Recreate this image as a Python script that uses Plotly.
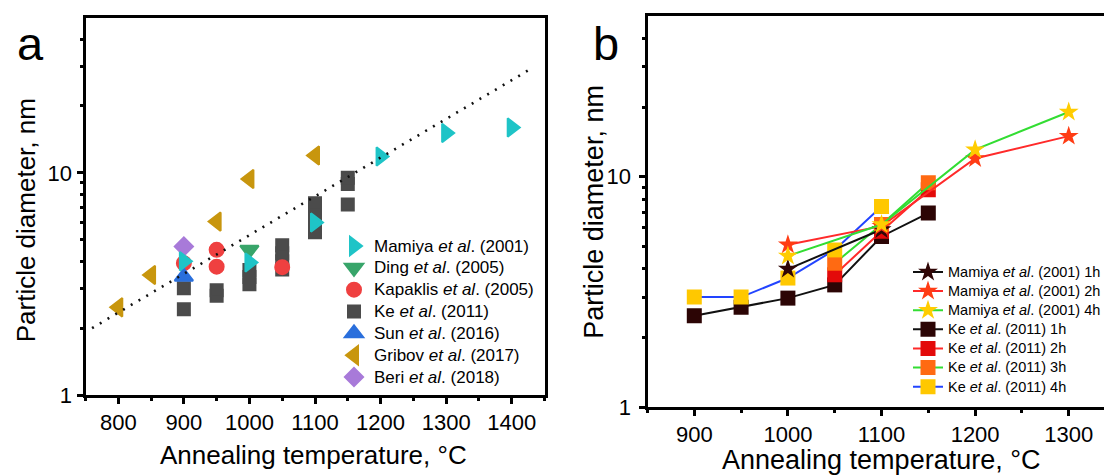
import plotly.graph_objects as go

FONT = "Liberation Sans, Arial, sans-serif"
W, H = 1104, 476

# ---------------- panel a: particle size vs. annealing temperature (literature) ----------------
mamiya_T = [900, 1000, 1100, 1200, 1300, 1400]
mamiya_d = [4.0, 3.95, 5.97, 11.85, 15.1, 16.0]
ding_T = [1000]
ding_d = [4.5]
kapaklis_T = [900, 950, 950, 1050]
kapaklis_d = [3.92, 4.5, 3.78, 3.76]
ke_T = [900, 900, 950, 950, 1000, 1000, 1000, 1050, 1050, 1050, 1050,
        1100, 1100, 1100, 1100, 1150, 1150, 1150]
ke_d = [2.43, 3.02, 2.8, 2.96, 3.15, 3.4, 3.65, 3.67, 4.0, 4.35, 4.72,
        5.4, 5.95, 6.6, 7.3, 7.2, 8.9, 9.5]
sun_T = [900]
sun_d = [3.41]
gribov_T = [800, 850, 950, 1000, 1100]
gribov_d = [2.48, 3.47, 6.03, 9.37, 11.97]
beri_T = [900]
beri_d = [4.66]
# exponential trend (straight on the log axis), given by its end points
fit_T = [760, 1432]
fit_d = [2.0, 29.7]

# ---------------- panel b: time-resolved series ----------------
m1h_T = [1000, 1100]
m1h_d = [3.97, 5.9]
m2h_T = [1000, 1100, 1200, 1300]
m2h_d = [5.06, 6.1, 12.0, 15.0]
m4h_T = [1000, 1100, 1200, 1300]
m4h_d = [4.53, 6.2, 13.1, 19.1]
ke1h_T = [900, 950, 1000, 1050, 1100, 1150]
ke1h_d = [2.49, 2.71, 2.97, 3.39, 5.5, 6.95]
ke2h_T = [1050, 1100, 1150]
ke2h_d = [3.75, 5.8, 8.78]
ke3h_T = [1050, 1100, 1150]
ke3h_d = [4.21, 6.2, 9.4]
ke4h_T = [900, 950, 1000, 1050, 1100]
ke4h_d = [3.0, 3.0, 3.63, 4.81, 7.43]

xticks_a = [800, 900, 1000, 1100, 1200, 1300, 1400]
xticks_b = [900, 1000, 1100, 1200, 1300]
yticks = [1, 10]
yminor = [2, 3, 4, 5, 6, 7, 8, 9, 20, 30, 40]


def px_x(p):
    return p / W


def px_y(p):
    return 1 - p / H


def lab(name, size):
    return f'<span style="font-size:{size}px">{name}</span>'


fig = go.Figure()

# panel a markers (Ke at the bottom, Mamiya on top); a same-colour outline
# makes the legend symbols as large as the plotted ones
a_series = [
    ("Ke <i>et al</i>. (2011)", ke_T, ke_d, "square", 12, "#4b4b4b", 4),
    ("Kapaklis <i>et al</i>. (2005)", kapaklis_T, kapaklis_d, "circle", 14, "#ef4040", 3),
    ("Ding <i>et al</i>. (2005)", ding_T, ding_d, "triangle-down", 16, "#38a56a", 2),
    ("Sun <i>et al</i>. (2016)", sun_T, sun_d, "triangle-up", 16, "#2a6fdc", 5),
    ("Gribov <i>et al</i>. (2017)", gribov_T, gribov_d, "triangle-left", 16, "#c8960e", 6),
    ("Beri <i>et al</i>. (2018)", beri_T, beri_d, "diamond", 14, "#a87ad9", 7),
    ("Mamiya <i>et al</i>. (2001)", mamiya_T, mamiya_d, "triangle-right", 16, "#1fc4c7", 1),
]
for name, xs, ys, sym, sz, col, rank in a_series:
    fig.add_trace(go.Scatter(
        x=xs, y=ys, mode="markers", name=lab(name, 17),
        marker=dict(symbol=sym, size=sz, color=col, line=dict(width=2, color=col)),
        xaxis="x", yaxis="y", legend="legend", legendrank=rank,
    ))

fig.add_trace(go.Scatter(
    x=fit_T, y=fit_d, mode="lines", showlegend=False,
    line=dict(color="#111111", width=2.6, dash="2px,7px"),
    xaxis="x", yaxis="y",
))

# panel b lines + markers
b_series = [
    ("Ke <i>et al</i>. (2011) 1h", ke1h_T, ke1h_d, "square", "#2c0505", "#111111", 4),
    ("Ke <i>et al</i>. (2011) 2h", ke2h_T, ke2h_d, "square", "#e30a0a", "#ff2a2a", 5),
    ("Ke <i>et al</i>. (2011) 3h", ke3h_T, ke3h_d, "square", "#ff6a12", "#33dd33", 6),
    ("Ke <i>et al</i>. (2011) 4h", ke4h_T, ke4h_d, "square", "#ffc800", "#2244ff", 7),
    ("Mamiya <i>et al</i>. (2001) 1h", m1h_T, m1h_d, "star", "#300606", "#111111", 1),
    ("Mamiya <i>et al</i>. (2001) 2h", m2h_T, m2h_d, "star", "#ff3c14", "#ff2a2a", 2),
    ("Mamiya <i>et al</i>. (2001) 4h", m4h_T, m4h_d, "star", "#ffcc00", "#33dd33", 3),
]
for name, xs, ys, sym, mcol, lcol, rank in b_series:
    fig.add_trace(go.Scatter(
        x=xs, y=ys, mode="lines+markers", name=lab(name, 14.5),
        line=dict(color=lcol, width=2),
        marker=dict(symbol=sym, size=15, color=mcol, line=dict(width=0)),
        xaxis="x2", yaxis="y2", legend="legend2", legendrank=rank,
    ))

axis_common = dict(
    showline=True, linecolor="black", linewidth=3, showgrid=False, zeroline=False,
    ticks="outside", ticklen=6, tickwidth=2.5, tickcolor="black", automargin=False,
    tickfont=dict(family=FONT, size=22, color="black"),
)

fig.update_layout(
    width=W, height=H,
    margin=dict(l=0, r=0, t=0, b=0, pad=0, autoexpand=False),
    paper_bgcolor="white", plot_bgcolor="white",
    font=dict(family=FONT, color="black"),
    xaxis=dict(
        domain=[px_x(85.5), px_x(544.5)], anchor="y", range=[750, 1450],
        tickmode="array", tickvals=xticks_a, mirror=True, ticklabelstandoff=0,
        minor=dict(dtick=50, tick0=750, ticks="outside", ticklen=3, tickwidth=2.5, tickcolor="black"),
        **axis_common,
    ),
    yaxis=dict(
        domain=[px_y(395), px_y(17.5)], anchor="x", type="log", range=[0, 1.69897],
        tickmode="array", tickvals=yticks, mirror=True,
        minor=dict(tickmode="array", tickvals=yminor, ticks="outside", ticklen=3,
                   tickwidth=2.5, tickcolor="black"),
        **axis_common,
    ),
    xaxis2=dict(
        domain=[px_x(647.5), 1.0], anchor="y2", range=[850, 1337.7],
        tickmode="array", tickvals=xticks_b, mirror=True, ticklabelstandoff=0,
        minor=dict(dtick=50, tick0=850, ticks="outside", ticklen=3, tickwidth=2.5, tickcolor="black"),
        **axis_common,
    ),
    yaxis2=dict(
        domain=[px_y(407), px_y(15.7)], anchor="x2", type="log", range=[0, 1.69897],
        tickmode="array", tickvals=yticks, mirror=False, ticklabelstandoff=3,
        minor=dict(tickmode="array", tickvals=yminor, ticks="outside", ticklen=3,
                   tickwidth=2.5, tickcolor="black"),
        **axis_common,
    ),
    legend=dict(
        x=px_x(334), y=px_y(230), xanchor="left", yanchor="top",
        bgcolor="rgba(0,0,0,0)", borderwidth=0,
        font=dict(family=FONT, size=14.5, color="black"),
        tracegroupgap=0,
    ),
    legend2=dict(
        x=px_x(908), y=px_y(257.4), xanchor="left", yanchor="top",
        bgcolor="rgba(0,0,0,0)", borderwidth=0,
        font=dict(family=FONT, size=12.4, color="black"),
        tracegroupgap=0,
    ),
)

annotations = [
    dict(text="Annealing temperature, °C", x=px_x(313), y=px_y(454.5), size=26, angle=0),
    dict(text="Particle diameter, nm", x=px_x(26.3), y=px_y(220), size=26, angle=-90),
    dict(text="Annealing temperature, °C", x=px_x(881.3), y=px_y(460), size=27, angle=0),
    dict(text="Particle diameter, nm", x=px_x(593.7), y=px_y(212), size=27, angle=-90),
    dict(text="a", x=px_x(30), y=px_y(43.7), size=47, angle=0),
    dict(text="b", x=px_x(606), y=px_y(43.7), size=47, angle=0),
]
for a in annotations:
    fig.add_annotation(
        text=a["text"], x=a["x"], y=a["y"], xref="paper", yref="paper",
        xanchor="center", yanchor="middle", showarrow=False, textangle=a["angle"],
        font=dict(family=FONT, size=a["size"], color="black"),
    )

fig.write_html("out.html")
